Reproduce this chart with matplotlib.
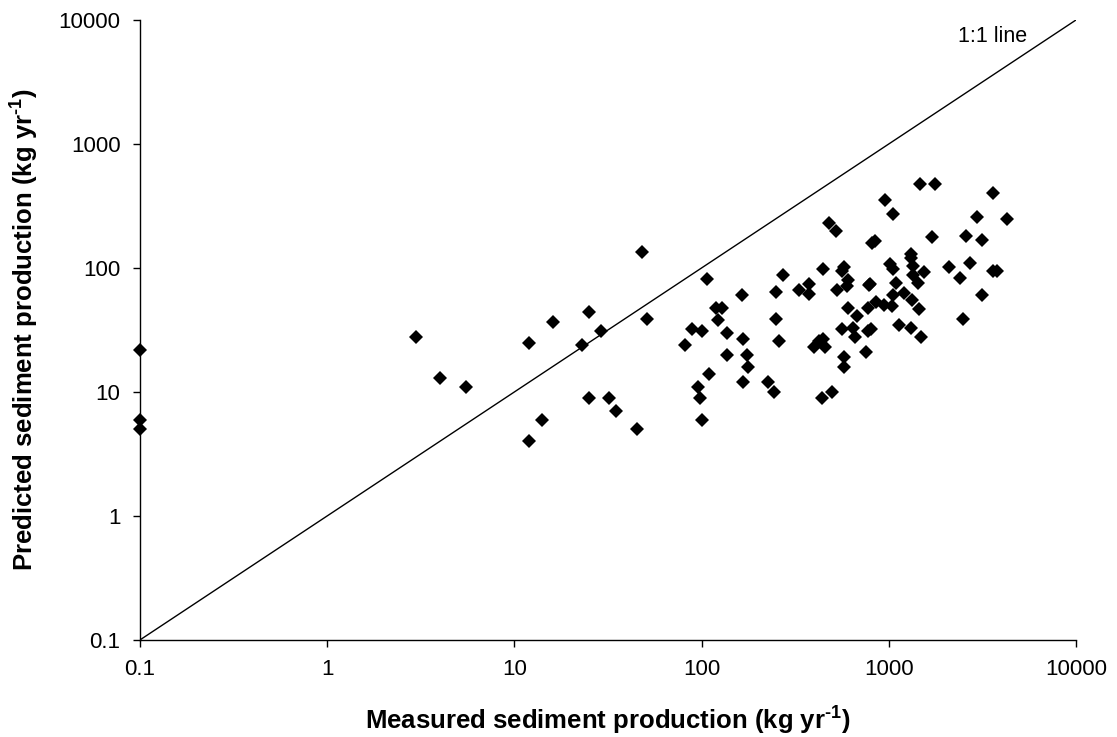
import matplotlib
matplotlib.use("Agg")
import matplotlib.pyplot as plt
from matplotlib.ticker import FixedLocator, FixedFormatter, NullLocator

plt.rcParams['font.family'] = ['Liberation Sans', 'DejaVu Sans']
plt.rcParams['mathtext.fontset'] = 'custom'
plt.rcParams['mathtext.rm'] = 'Liberation Sans:bold'
plt.rcParams['mathtext.bf'] = 'Liberation Sans:bold'

measured = [
    0.1, 0.1, 0.1, 3, 4, 5.5, 12, 16, 25, 29, 23, 51, 48, 25, 32, 35, 45, 14, 12,
    82, 89, 101, 120, 129, 122, 137, 167, 136, 174, 176, 167, 110, 96, 98, 100,
    107, 165, 226, 244, 250, 273, 250, 260, 333, 375, 375, 399, 424, 447, 458,
    447, 480, 521, 527, 561, 577, 604, 600, 566, 577, 577, 604, 647, 658, 679,
    754, 772, 772, 801, 781, 795, 811, 845, 852, 947, 1040, 955, 1049, 1015,
    1049, 1093, 1049, 1134, 1206, 1309, 1309, 1352, 1342, 1325, 1309, 1438,
    1449, 1481, 1468, 1771, 1542, 1695, 2097, 2400, 2481, 2584, 2715, 2946,
    3135, 3158, 3615, 3615, 3769, 4295, 440, 499,
]
predicted = [
    22, 6, 5, 28, 13, 11, 25, 37, 44, 31, 24, 39, 134, 9, 9, 7, 5, 6, 4,
    24, 32, 31, 48, 48, 38, 30, 27, 20, 20, 16, 12, 14, 11, 9, 6,
    82, 61, 12, 10, 64, 87, 39, 26, 66, 74, 62, 23, 26, 27, 23,
    98, 229, 200, 66, 95, 102, 80, 72, 32, 19, 16, 48, 33, 28, 41,
    21, 48, 31, 32, 73, 74, 160, 164, 53, 50, 49, 351, 272, 107,
    99, 76, 60, 35, 63, 129, 120, 104, 87, 55, 33, 75,
    47, 28, 476, 476, 93, 179, 101, 83, 39, 182, 110, 259,
    169, 61, 400, 95, 94, 248, 9, 10,
]

ticks = [0.1, 1, 10, 100, 1000, 10000]
tick_labels = ["0.1", "1", "10", "100", "1000", "10000"]

fig = plt.figure(figsize=(11.17, 7.37), dpi=100)
ax = fig.add_axes([0.1252, 0.1316, 0.8381, 0.8413])
ax.set_xscale('log')
ax.set_yscale('log')
ax.set_xlim(0.1, 10000)
ax.set_ylim(0.1, 10000)

ax.plot([0.1, 10000], [0.1, 10000], color='black', linewidth=1.0, zorder=2)
ax.plot(measured, predicted, linestyle='none', marker='D', markersize=7,
        color='black', markeredgewidth=0, zorder=3, clip_on=False)

for axis in (ax.xaxis, ax.yaxis):
    axis.set_major_locator(FixedLocator(ticks))
    axis.set_major_formatter(FixedFormatter(tick_labels))
    axis.set_minor_locator(NullLocator())

ax.spines['top'].set_visible(False)
ax.spines['right'].set_visible(False)
for s in ('left', 'bottom'):
    ax.spines[s].set_linewidth(1.0)
ax.tick_params(axis='both', which='major', direction='out', length=5,
               width=1.0, labelsize=16, color='black')
ax.tick_params(axis='x', pad=9)
ax.tick_params(axis='y', pad=9)

ax.set_xlabel(r"Measured sediment production (kg yr$^{\text{-1}}$)",
              fontsize=18.5, fontweight='bold', labelpad=16)
ax.set_ylabel(r"Predicted sediment production (kg yr$^{\text{-1}}$)",
              fontsize=18.5, fontweight='bold', labelpad=13)

ax.text(2350, 7400, "1:1 line", fontsize=15.5, ha='left', va='center')

fig.savefig("out.png", dpi=100)
